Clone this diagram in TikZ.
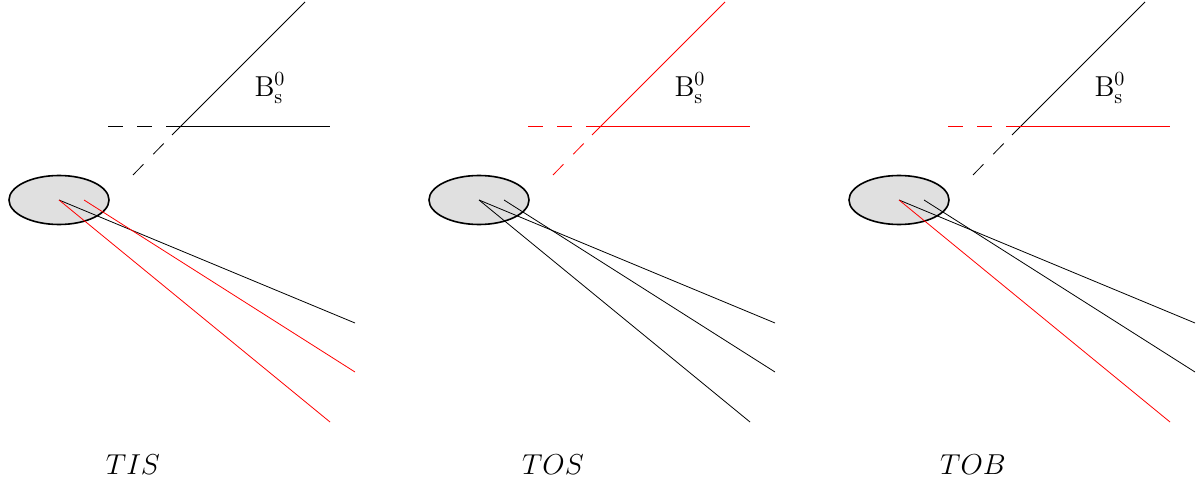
\documentclass[tikz,border=0pt]{standalone}
\usetikzlibrary{shapes.geometric}
\begin{document}
\begin{tikzpicture}[x=0.5pt,y=-0.5pt,
  vtx/.style={draw, ellipse, fill=black!12, line width=0.8pt, inner sep=0pt, minimum width=50pt, minimum height=24.5pt},
  trk/.style={line width=0.4pt},
  bdash/.style={line width=0.4pt, dash pattern=on 7.5pt off 7pt},
  trig/.style={font=\fontsize{13.5}{16}\selectfont}]
\useasboundingbox (0,0) rectangle (1200,481);
% TIS
\begin{scope}
\node[vtx] (pv1) at (59,200) {};
\coordinate (o1) at (59,200);
\coordinate (s1) at (84,200);
\coordinate (bt1) at (305,2);
\coordinate (bx1) at (172,135);
\coordinate (bd1) at (133,175);
\coordinate (hl1) at (108,126);
\coordinate (hm1) at (168,126);
\coordinate (hr1) at (330,126);
\draw[trk] (bt1) -- (bx1);
\draw[bdash] (bd1) -- (bx1);
\draw[bdash] (hl1) -- (hm1);
\draw[trk] (hm1) -- (hr1);
\node (bs1) at (270,88) {\Large $\mathrm{B}^0_\mathrm{s}$};
\draw[trk] (o1) -- (355,323);
\draw[trk, red] (s1) -- (355,372);
\draw[trk, red] (o1) -- (330,422);
\node[trig] (lab1) at (133,465) {$TIS$};
\end{scope}
% TOS
\begin{scope}[xshift=210pt]
\node[vtx] (pv2) at (59,200) {};
\coordinate (o2) at (59,200);
\coordinate (s2) at (84,200);
\coordinate (bt2) at (305,2);
\coordinate (bx2) at (172,135);
\coordinate (bd2) at (133,175);
\coordinate (hl2) at (108,126);
\coordinate (hm2) at (168,126);
\coordinate (hr2) at (330,126);
\draw[trk, red] (bt2) -- (bx2);
\draw[bdash, red] (bd2) -- (bx2);
\draw[bdash, red] (hl2) -- (hm2);
\draw[trk, red] (hm2) -- (hr2);
\node (bs2) at (270,88) {\Large $\mathrm{B}^0_\mathrm{s}$};
\draw[trk] (o2) -- (355,323);
\draw[trk] (s2) -- (355,372);
\draw[trk] (o2) -- (330,422);
\node[trig] (lab2) at (133,465) {$TOS$};
\end{scope}
% TOB
\begin{scope}[xshift=420pt]
\node[vtx] (pv3) at (59,200) {};
\coordinate (o3) at (59,200);
\coordinate (s3) at (84,200);
\coordinate (bt3) at (305,2);
\coordinate (bx3) at (172,135);
\coordinate (bd3) at (133,175);
\coordinate (hl3) at (108,126);
\coordinate (hm3) at (168,126);
\coordinate (hr3) at (330,126);
\draw[trk] (bt3) -- (bx3);
\draw[bdash] (bd3) -- (bx3);
\draw[bdash, red] (hl3) -- (hm3);
\draw[trk, red] (hm3) -- (hr3);
\node (bs3) at (270,88) {\Large $\mathrm{B}^0_\mathrm{s}$};
\draw[trk] (o3) -- (355,323);
\draw[trk] (s3) -- (355,372);
\draw[trk, red] (o3) -- (330,422);
\node[trig] (lab3) at (133,465) {$TOB$};
\end{scope}
\end{tikzpicture}
\end{document}
